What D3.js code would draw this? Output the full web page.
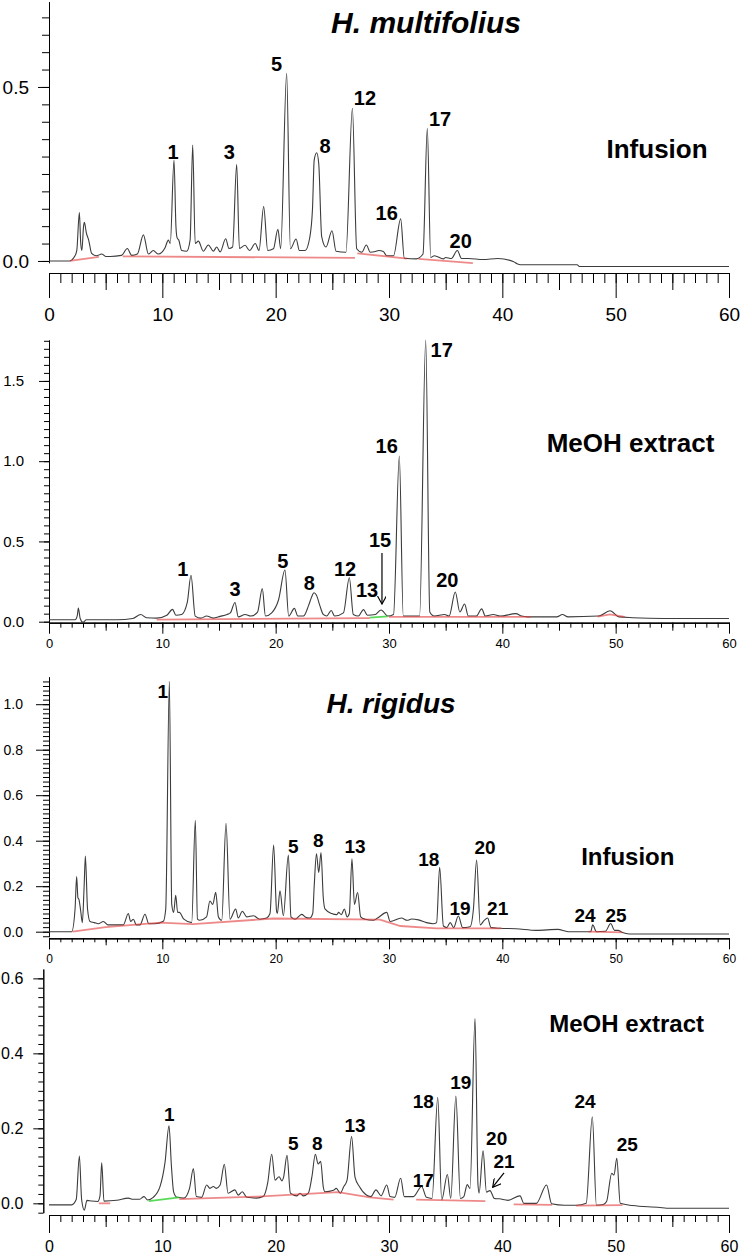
<!DOCTYPE html>
<html><head><meta charset="utf-8">
<script src="https://cdn.jsdelivr.net/npm/d3@7"></script>
<style>body{margin:0;background:#fff}svg{display:block}text{font-family:"Liberation Sans",Arial,sans-serif}</style>
</head><body><svg id="c" width="740" height="1258"></svg>
<script>
// ---------- DATA (retention time [min], absorbance) ----------
const xTickLabels = [0,10,20,30,40,50,60];

const hmInfusion = [[0,0],[1.8,0],[2.2,0.01],[2.45,0.03],[2.68,0.139],[2.8,0.05],[2.9,0.03],[3.05,0.1],[3.12,0.111],[3.3,0.08],[3.5,0.06],[3.76,0.022],[4.2,0.015],[4.65,0.02],[5.0,0.013],[5.4,0.013],[6.4,0.016],[6.91,0.036],[7.3,0.016],[7.8,0.02],[8.33,0.075],[8.77,0.02],[9.2,0.03],[9.65,0.02],[10.24,0.038],[10.53,0.06],[10.7,0.05],[11.03,0.29],[11.2,0.1],[11.3,0.067],[11.45,0.06],[11.71,0.03],[12.15,0.028],[12.45,0.06],[12.68,0.333],[12.9,0.05],[13.18,0.057],[13.62,0.028],[14.06,0.046],[14.5,0.028],[14.8,0.04],[15.1,0.026],[15.59,0.064],[15.88,0.036],[16.2,0.04],[16.56,0.278],[16.8,0.036],[17.3,0.045],[17.7,0.03],[18.2,0.05],[18.53,0.03],[18.94,0.156],[19.3,0.03],[19.8,0.035],[20.2,0.091],[20.44,0.035],[20.97,0.539],[21.3,0.035],[21.8,0.063],[22.1,0.03],[22.6,0.03],[23.0,0.066],[23.25,0.15],[23.4,0.29],[23.62,0.311],[23.8,0.28],[24.06,0.07],[24.44,0.04],[24.97,0.087],[25.33,0.028],[26.2,0.025],[26.77,0.439],[27.15,0.035],[27.6,0.025],[28.0,0.046],[28.35,0.025],[28.8,0.027],[29.1,0.03],[29.5,0.027],[29.8,0.015],[30.4,0.015],[31.03,0.121],[31.35,0.008],[32.4,0.006],[33.0,0.02],[33.38,0.381],[33.68,0.01],[34.0,0.015],[34.8,0.006],[35.0,0.01],[35.5,0.007],[36.03,0.03],[36.4,0.007],[37.0,0.007],[38.3,0.004],[39.6,0.007],[41.0,-0.002],[41.3,-0.008],[41.6,-0.011],[46.6,-0.011],[46.8,-0.016],[60,-0.016]];

const hmMeOH = [[0,0.012],[2.3,0.012],[2.5,0.04],[2.59,0.085],[2.75,0.02],[3.0,-0.004],[3.3,0.012],[6.0,0.012],[7.4,0.02],[8.09,0.045],[8.6,0.025],[9.5,0.022],[10.4,0.04],[10.9,0.077],[11.2,0.04],[11.7,0.045],[12.2,0.12],[12.53,0.289],[12.9,0.035],[13.4,0.022],[13.9,0.035],[14.5,0.022],[15.1,0.033],[15.7,0.045],[16.0,0.055],[16.41,0.12],[16.7,0.03],[17.3,0.045],[17.8,0.035],[18.4,0.06],[18.82,0.206],[19.1,0.035],[19.65,0.055],[20.25,0.135],[20.82,0.322],[21.15,0.035],[21.65,0.083],[21.95,0.035],[22.45,0.035],[22.9,0.1],[23.15,0.15],[23.38,0.18],[23.6,0.165],[23.9,0.1],[24.2,0.045],[24.5,0.035],[24.9,0.07],[25.2,0.035],[25.98,0.055],[26.5,0.274],[26.85,0.045],[27.3,0.035],[27.75,0.075],[28.1,0.04],[28.8,0.045],[29.3,0.073],[29.9,0.035],[30.4,0.045],[30.91,1.032],[31.26,0.035],[32.7,0.035],[33.24,1.755],[33.6,0.06],[34.0,0.035],[34.9,0.045],[35.3,0.035],[35.85,0.185],[36.25,0.06],[36.67,0.11],[37.0,0.035],[37.7,0.035],[38.18,0.08],[38.5,0.035],[39.2,0.045],[39.8,0.035],[41.2,0.05],[41.7,0.035],[42.2,0.03],[44.8,0.03],[45.3,0.045],[45.8,0.03],[48.5,0.035],[49.5,0.068],[50.3,0.03],[51.5,0.025],[54.2,0.02],[60,0.02]];

const hrInfusion = [[0,0],[2.0,0],[2.3,0.1],[2.44,0.242],[2.55,0.15],[2.65,0.14],[2.8,0.09],[2.94,0.04],[3.1,0.2],[3.21,0.333],[3.4,0.1],[3.62,0.045],[4.0,0.04],[4.35,0.035],[4.8,0.045],[5.2,0.03],[6.56,0.03],[7.0,0.08],[7.2,0.045],[7.44,0.055],[7.7,0.03],[8.03,0.03],[8.47,0.077],[8.8,0.035],[9.35,0.035],[10.09,0.046],[10.3,0.1],[10.62,1.1],[10.83,0.12],[11.0,0.085],[11.18,0.16],[11.35,0.085],[11.5,0.085],[11.9,0.055],[12.59,0.04],[12.91,0.49],[13.1,0.055],[13.3,0.05],[13.9,0.065],[14.2,0.135],[14.45,0.12],[14.71,0.173],[14.95,0.065],[15.24,0.05],[15.62,0.476],[15.97,0.055],[16.47,0.1],[16.7,0.06],[17.06,0.09],[17.45,0.065],[18.03,0.07],[18.6,0.055],[19.2,0.06],[19.5,0.08],[19.82,0.381],[20.08,0.09],[20.15,0.08],[20.38,0.18],[20.68,0.07],[21.12,0.337],[21.35,0.065],[21.7,0.055],[22.3,0.076],[22.6,0.065],[23.0,0.06],[23.27,0.08],[23.4,0.2],[23.6,0.342],[23.8,0.26],[24.0,0.348],[24.2,0.15],[24.35,0.1],[24.94,0.08],[25.4,0.075],[25.55,0.085],[25.8,0.075],[26.06,0.1],[26.3,0.065],[26.5,0.08],[26.73,0.32],[26.95,0.12],[27.23,0.172],[27.5,0.065],[27.88,0.055],[28.6,0.05],[29.0,0.06],[29.8,0.085],[30.1,0.045],[31.1,0.06],[31.6,0.05],[32.0,0.056],[32.6,0.052],[33.3,0.04],[33.9,0.035],[34.2,0.04],[34.47,0.283],[34.8,0.025],[35.1,0.018],[35.4,0.04],[35.7,0.018],[36.12,0.069],[36.5,0.018],[37.15,0.022],[37.45,0.1],[37.73,0.315],[38.05,0.03],[38.4,0.05],[38.7,0.06],[39.0,0.018],[39.8,0.015],[41.2,0.013],[43.0,0.006],[44.9,0.01],[45.8,0.0],[47.8,0.0],[47.97,0.03],[48.3,0.0],[49.1,0.002],[49.56,0.036],[49.9,0.006],[50.2,0.006],[50.6,-0.004],[51.2,-0.01],[60,-0.01]];

const hrMeOH = [[0,-0.004],[2.0,-0.004],[2.4,0.01],[2.68,0.126],[2.88,0.01],[3.12,-0.018],[3.35,0.008],[3.77,0.006],[4.3,0.005],[4.5,0.02],[4.65,0.108],[4.85,0.006],[5.97,0.008],[7.0,0.014],[7.4,0.011],[8.0,0.011],[8.38,0.018],[8.7,0.009],[9.2,0.016],[9.8,0.045],[10.24,0.11],[10.59,0.207],[10.8,0.1],[11.0,0.03],[11.3,0.016],[11.9,0.014],[12.4,0.04],[12.74,0.093],[13.0,0.018],[13.47,0.016],[13.91,0.049],[14.2,0.04],[14.5,0.045],[14.75,0.04],[15.1,0.049],[15.47,0.104],[15.8,0.027],[16.4,0.036],[16.7,0.022],[17.06,0.031],[17.45,0.016],[18.3,0.014],[18.9,0.018],[19.3,0.055],[19.65,0.131],[19.95,0.062],[20.3,0.071],[20.55,0.06],[20.7,0.07],[21.0,0.128],[21.3,0.027],[21.85,0.02],[22.15,0.027],[22.45,0.02],[22.88,0.027],[23.2,0.071],[23.5,0.131],[23.75,0.105],[23.97,0.112],[24.2,0.044],[24.35,0.031],[25.1,0.035],[25.35,0.04],[25.7,0.027],[26.0,0.044],[26.3,0.062],[26.7,0.178],[27.0,0.07],[27.4,0.044],[28.0,0.022],[28.4,0.018],[28.85,0.036],[29.3,0.02],[29.8,0.049],[30.1,0.018],[30.5,0.016],[31.03,0.067],[31.35,0.018],[32.15,0.018],[32.88,0.045],[33.3,0.016],[33.8,0.013],[34.3,0.283],[34.65,0.009],[35.15,0.077],[35.45,0.013],[35.9,0.286],[36.3,0.013],[36.6,0.018],[36.9,0.05],[37.15,0.04],[37.59,0.493],[37.85,0.05],[37.95,0.027],[38.3,0.14],[38.6,0.03],[38.91,0.034],[39.3,0.013],[39.74,0.012],[40.5,0.008],[41.56,0.02],[41.9,0.0],[43.0,0.0],[43.9,0.049],[44.35,-0.001],[45.5,-0.005],[46.56,-0.005],[47.4,0.0],[47.94,0.231],[48.3,-0.005],[48.9,-0.003],[49.2,0.005],[49.65,0.08],[49.85,0.075],[50.1,0.12],[50.4,0.0],[51.5,-0.006],[53.9,-0.011],[54.5,-0.013],[60,-0.013]];

// integration baselines (red) and green ones
const hmInfusionBase = [[[1.85,0],[4.4,0.012]],[[6.5,0.013],[27.0,0.009]],[[27.2,0.022],[31.6,0.007]],[[32.6,0.006],[37.4,-0.006]]];
const hmMeOHBase = [[[9.5,0.013],[28.3,0.022]],[[30.0,0.03],[42.5,0.03]],[[48.4,0.032],[49.5,0.045],[50.8,0.03]]];
const hmMeOHGreen = [[[28.3,0.025],[29.9,0.033]]];
const hrInfusionBase = [[[2.09,0],[5.0,0.02],[9.8,0.04],[12.7,0.033],[19.8,0.058],[29.2,0.053],[31.0,0.025],[34.2,0.015],[39.9,0.015]],[[47.6,0.0],[50.6,-0.003]]];
const hrMeOHBase = [[[4.4,0.0],[5.4,0.0]],[[11.5,0.011],[18.4,0.018],[25.5,0.03],[28.3,0.016],[30.4,0.01]],[[32.4,0.01],[38.5,0.006]],[[41.0,-0.003],[44.4,-0.004]],[[46.5,-0.006],[50.6,-0.005]]];
const hrMeOHGreen = [[[8.8,0.006],[11.5,0.016]]];

// peak labels: [text, time, absorbance]
const hmInfusionLabels = [["1",10.94,0.293],["3",15.91,0.293],["5",20.09,0.546],["8",24.35,0.31],["12",27.88,0.448],["16",29.8,0.118],["17",34.5,0.388],["20",36.33,0.036]];
const hmMeOHLabels = [["1",11.8,0.285],["3",16.41,0.16],["5",20.62,0.333],["8",22.97,0.198],["12",26.12,0.285],["13",28.06,0.154],["15",29.21,0.464],["16",29.8,1.053],["17",34.65,1.651],["20",35.15,0.214]];
const hrInfusionLabels = [["1",10.03,1.026],["5",21.56,0.345],["8",23.76,0.371],["13",27.0,0.345],["18",33.51,0.287],["19",36.27,0.073],["20",38.47,0.342],["21",39.59,0.073],["24",47.3,0.041],["25",50.03,0.041]];
const hrMeOHLabels = [["1",10.61,0.22],["5",21.56,0.142],["8",23.67,0.142],["13",27.0,0.191],["17",33.03,0.043],["18",33.03,0.255],["19",36.33,0.304],["20",39.5,0.155],["21",40.15,0.093],["24",47.3,0.255],["25",51.03,0.14]];

// arrows: [t1,v1,t2,v2]
const hmMeOHArrows = [[29.38,0.428,29.38,0.11]];
const hrMeOHArrows = [[40.15,0.081,39.15,0.043]];

// panel captions: [text, time, absorbance, kind]
const hmInfusionCaptions = [["H. multifolius",33.27,0.655,"title"],["Infusion",53.65,0.296,"cap"]];
const hmMeOHCaptions = [["MeOH extract",51.31,1.057,"cap"]];
const hrInfusionCaptions = [["H. rigidus",30.18,0.961,"title"],["Infusion",51.07,0.293,"cap"]];
const hrMeOHCaptions = [["MeOH extract",50.97,0.458,"cap"]];

// axis tick values
const hmInfYMajor = [0,0.5], hmInfYMinorStep = 0.05, hmInfYMax = 0.7;
const hmMeOHYMajor = [0,0.5,1.0,1.5], hmMeOHYMinorStep = 0.05, hmMeOHYMax = 1.75;
const hrInfYMajor = [0,0.2,0.4,0.6,0.8,1.0], hrInfYMinorStep = 0.02, hrInfYMax = 1.1;
const hrMeOHYMajor = [0,0.2,0.4,0.6], hrMeOHYMinorStep = 0.025, hrMeOHYMax = 0.6;

// ---------- DRAWING ----------
const svg = d3.select('#c');
const defs = svg.append('defs');
defs.append('marker').attr('id','arr').attr('viewBox','0 0 10 10').attr('refX',9).attr('refY',5)
  .attr('markerWidth',9).attr('markerHeight',9).attr('markerUnits','userSpaceOnUse').attr('orient','auto')
  .append('path').attr('d','M0,0 L9,5 L0,10').attr('fill','none').attr('stroke','#000').attr('stroke-width',1.3);

const x = d3.scaleLinear().domain([0,60]).range([49,729]);
const xMinor = d3.range(0,61);
const xMid = d3.range(5,60,10);

function steps(lo, hi, st){ const n=Math.round((hi-lo)/st); return d3.range(0,n+1).map(i=>+(lo+i*st).toFixed(4)); }

function styleAxis(g, fs){
  g.attr('font-family','"Liberation Sans",Arial,sans-serif').attr('font-size',fs);
  g.selectAll('path,line').attr('stroke','#000').attr('stroke-width',1);
  g.selectAll('text').attr('fill','#000');
}

function drawPanel(p){
  const y = d3.scaleLinear().domain(p.yDomain).range(p.yRange);
  const g = svg.append('g');
  const gy1 = g.append('g').attr('transform',`translate(${p.yAxisX},0)`)
    .call(d3.axisLeft(y).tickValues(steps(p.yMinorLo,p.yMax,p.yStep)).tickSize(p.yMinorLen).tickSizeOuter(0).tickFormat(''));
  styleAxis(gy1, p.yFont);
  const gy2 = g.append('g').attr('transform',`translate(${p.yAxisX},0)`)
    .call(d3.axisLeft(y).tickValues(p.yMajor).tickSize(p.yMajorLen).tickSizeOuter(0).tickPadding(p.yPad).tickFormat(d3.format('.1f')));
  styleAxis(gy2, p.yFont);
  const gx1 = g.append('g').attr('transform',`translate(0,${p.xAxisY})`)
    .call(d3.axisBottom(x).tickValues(xMinor).tickSize(p.xMinorLen).tickSizeOuter(0).tickFormat(''));
  styleAxis(gx1, p.xFont);
  const gx2 = g.append('g').attr('transform',`translate(0,${p.xAxisY})`)
    .call(d3.axisBottom(x).tickValues(xMid).tickSize(p.xMidLen).tickSizeOuter(0).tickFormat(''));
  styleAxis(gx2, p.xFont);
  const gx3 = g.append('g').attr('transform',`translate(0,${p.xAxisY})`)
    .call(d3.axisBottom(x).tickValues(xTickLabels).tickSize(p.xMajorLen).tickSizeOuter(0).tickPadding(p.xPad).tickFormat(d3.format('d')));
  styleAxis(gx3, p.xFont);

  const line = d3.line().x(d=>x(d[0])).y(d=>y(d[1])).curve(d3.curveMonotoneX);
  g.append('path').datum(p.trace).attr('d',line).attr('fill','none')
    .attr('stroke','#3c3c3c').attr('stroke-width',1.1).attr('stroke-linejoin','round');
  const bl = d3.line().x(d=>x(d[0])).y(d=>y(d[1]));
  p.base.forEach(s=>g.append('path').datum(s).attr('d',bl).attr('fill','none')
    .attr('stroke','#e23a3a').attr('stroke-opacity',0.6).attr('stroke-width',1.8));
  (p.green||[]).forEach(s=>g.append('path').datum(s).attr('d',bl).attr('fill','none')
    .attr('stroke','#2fd02f').attr('stroke-opacity',0.8).attr('stroke-width',1.8));
  p.labels.forEach(l=>g.append('text').attr('x',x(l[1])).attr('y',y(l[2])).attr('text-anchor','middle')
    .attr('font-weight','bold').attr('font-size',p.labelFont).attr('fill','#000').text(l[0]));
  (p.arrows||[]).forEach(a=>g.append('line').attr('x1',x(a[0])).attr('y1',y(a[1])).attr('x2',x(a[2])).attr('y2',y(a[3]))
    .attr('stroke','#000').attr('stroke-width',1.2).attr('marker-end','url(#arr)'));
  p.captions.forEach(c=>{
    const t = g.append('text').attr('x',x(c[1])).attr('y',y(c[2])).attr('text-anchor','middle')
      .attr('font-weight','bold').attr('fill','#000').text(c[0]);
    if(c[3]==='title'){ t.attr('font-style','italic').attr('font-size',p.titleFont); }
    else { t.attr('font-size',p.capFont); }
  });
}

drawPanel({trace:hmInfusion, base:hmInfusionBase, labels:hmInfusionLabels, captions:hmInfusionCaptions,
  yDomain:[-0.005,0.745], yRange:[262.7,1.7], yAxisX:49, yMajor:hmInfYMajor, yStep:hmInfYMinorStep, yMinorLo:0, yMax:hmInfYMax,
  yMinorLen:7, yMajorLen:11, yPad:9, yFont:19,
  xAxisY:273, xMinorLen:10, xMidLen:17, xMajorLen:25, xPad:10, xFont:19,
  labelFont:20, titleFont:30, capFont:26});

drawPanel({trace:hmMeOH, base:hmMeOHBase, green:hmMeOHGreen, labels:hmMeOHLabels, captions:hmMeOHCaptions, arrows:hmMeOHArrows,
  yDomain:[-0.02,1.755], yRange:[624.9,340], yAxisX:49, yMajor:hmMeOHYMajor, yStep:hmMeOHYMinorStep, yMinorLo:0, yMax:hmMeOHYMax,
  yMinorLen:5, yMajorLen:10, yPad:15, yFont:15,
  xAxisY:622.7, xMinorLen:5, xMidLen:8, xMajorLen:11, xPad:5, xFont:13,
  labelFont:20, titleFont:28, capFont:26});

drawPanel({trace:hrInfusion, base:hrInfusionBase, labels:hrInfusionLabels, captions:hrInfusionCaptions,
  yDomain:[-0.022,1.12], yRange:[936.7,676.9], yAxisX:49, yMajor:hrInfYMajor, yStep:hrInfYMinorStep, yMinorLo:-0.02, yMax:hrInfYMax,
  yMinorLen:6, yMajorLen:13, yPad:13, yFont:14,
  xAxisY:938.3, xMinorLen:4, xMidLen:7, xMajorLen:11, xPad:5, xFont:12,
  labelFont:19, titleFont:28, capFont:24});

drawPanel({trace:hrMeOH, base:hrMeOHBase, green:hrMeOHGreen, labels:hrMeOHLabels, captions:hrMeOHCaptions, arrows:hrMeOHArrows,
  yDomain:[-0.025,0.625], yRange:[1212.7,969], yAxisX:43.3, yMajor:hrMeOHYMajor, yStep:hrMeOHYMinorStep, yMinorLo:-0.025, yMax:hrMeOHYMax,
  yMinorLen:5, yMajorLen:10, yPad:10, yFont:16,
  xAxisY:1215, xMinorLen:7, xMidLen:12, xMajorLen:18, xPad:8, xFont:16,
  labelFont:19, titleFont:28, capFont:24});
</script></body></html>
